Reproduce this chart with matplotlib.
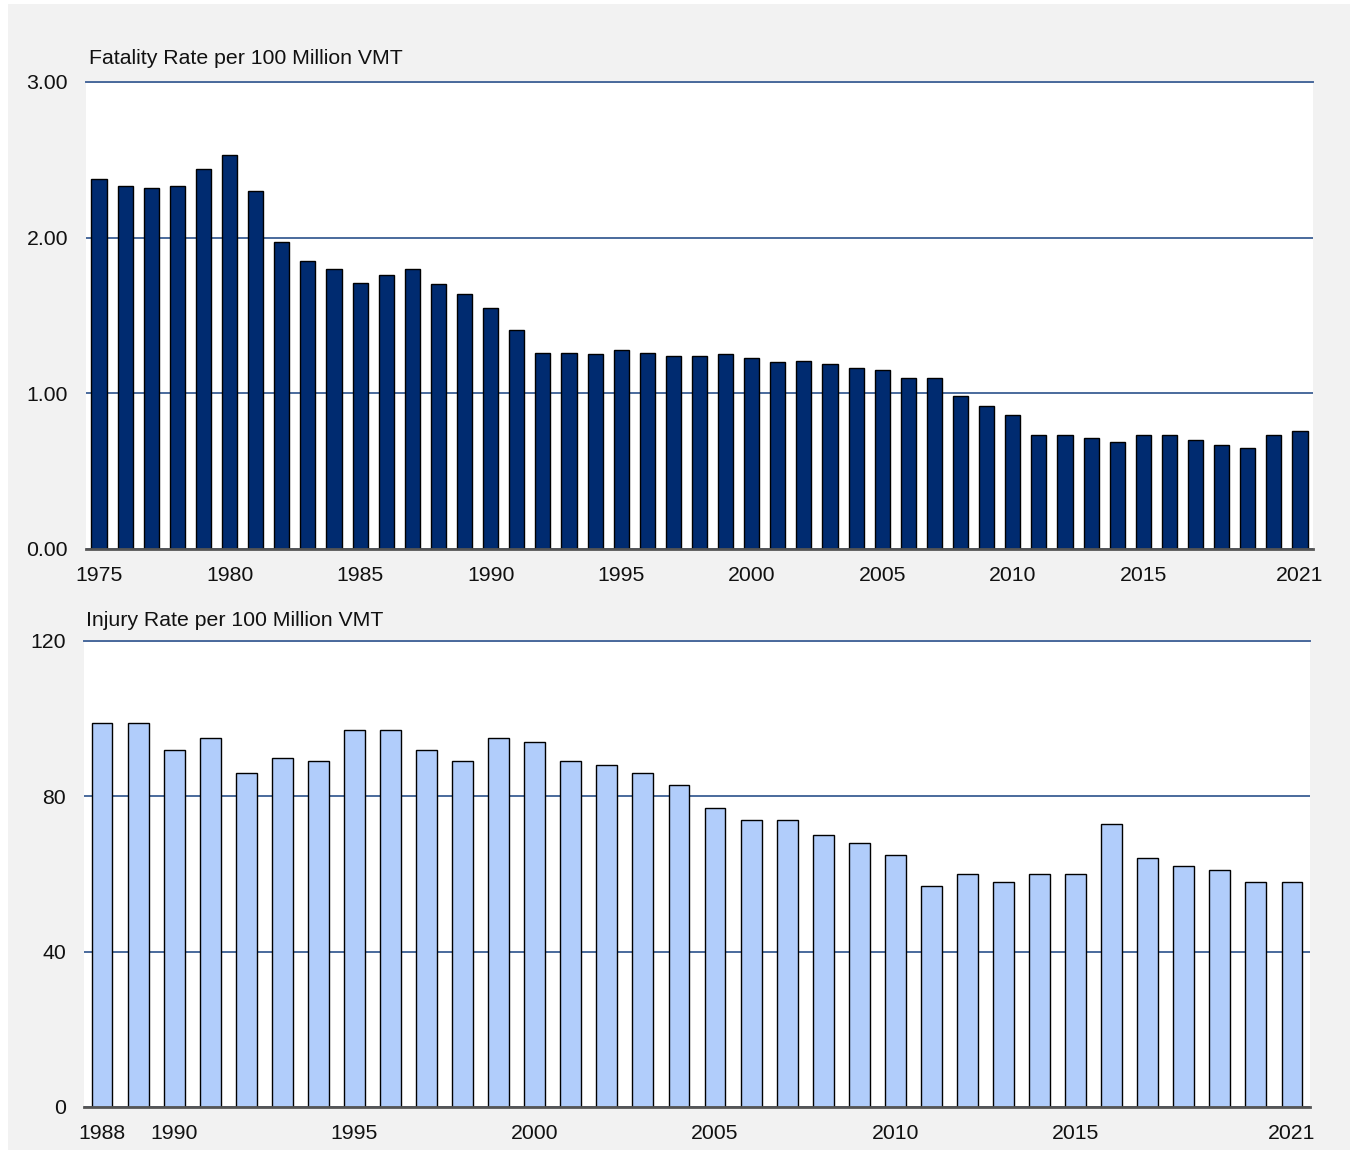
import matplotlib.pyplot as plt
from matplotlib.patches import Rectangle

plt.rcParams["font.family"] = ["Liberation Sans", "DejaVu Sans"]

# Fatality rate per 100 million VMT, 1975-2021
fatality_years = list(range(1975, 2022))
fatality_rate = [
    2.38, 2.33, 2.32, 2.33, 2.44, 2.53, 2.30, 1.97, 1.85, 1.80,
    1.71, 1.76, 1.80, 1.70, 1.64, 1.55, 1.41, 1.26, 1.26, 1.25,
    1.28, 1.26, 1.24, 1.24, 1.25, 1.23, 1.20, 1.21, 1.19, 1.16,
    1.15, 1.10, 1.10, 0.98, 0.92, 0.86, 0.73, 0.73, 0.71, 0.69,
    0.73, 0.73, 0.70, 0.67, 0.65, 0.73, 0.76,
]
fatality_ticks = [1975, 1980, 1985, 1990, 1995, 2000, 2005, 2010, 2015, 2021]

# Injury rate per 100 million VMT, 1988-2021
injury_years = list(range(1988, 2022))
injury_rate = [
    99, 99, 92, 95, 86, 90, 89, 97, 97, 92,
    89, 95, 94, 89, 88, 86, 83, 77, 74, 74,
    70, 68, 65, 57, 60, 58, 60, 60, 73, 64,
    62, 61, 58, 58,
]
injury_ticks = [1988, 1990, 1995, 2000, 2005, 2010, 2015, 2021]

W, H = 1354, 1150
FS = 15.3
fig = plt.figure(figsize=(W / 100, H / 100), dpi=100, facecolor="white")
fig.patches.append(Rectangle((8 / W, 0), 1342 / W, 1146 / H,
                             transform=fig.transFigure, facecolor="#f2f2f2",
                             edgecolor="none", zorder=-10))

GRID = "#4a6a9c"


def px_axes(left, top, right, bottom):
    return fig.add_axes([left / W, 1 - bottom / H, (right - left) / W, (bottom - top) / H])


def style(ax, years, ticks, yticks, ylabels):
    ax.set_facecolor("white")
    ax.set_xlim(years[0] - 0.5, years[-1] + 0.5)
    ax.set_ylim(yticks[0], yticks[-1])
    ax.set_yticks(yticks)
    ax.set_yticklabels(ylabels)
    ax.set_xticks(ticks)
    ax.tick_params(length=0, labelsize=FS, colors="#111111")
    ax.tick_params(axis="x", pad=12)
    ax.tick_params(axis="y", pad=13)
    for s in ["top", "right", "left"]:
        ax.spines[s].set_visible(False)
    ax.spines["bottom"].set_color("#555555")
    ax.spines["bottom"].set_linewidth(2)
    ax.spines["bottom"].set_zorder(5)
    ax.grid(axis="y", color=GRID, linewidth=1.4)
    ax.set_axisbelow(True)
    ax.axhline(yticks[-1], color=GRID, linewidth=1.4, zorder=0, clip_on=False)


ax1 = px_axes(86, 82, 1313, 549)
ax1.bar(fatality_years, fatality_rate, width=0.58, color="#002b70",
        edgecolor="black", linewidth=1)
style(ax1, fatality_years, fatality_ticks, [0, 1, 2, 3],
      ["0.00", "1.00", "2.00", "3.00"])
fig.text(89 / W, 1 - 58 / H, "Fatality Rate per 100 Million VMT",
         fontsize=FS, va="center", ha="left", color="#111111")

ax2 = px_axes(84, 641, 1310, 1107)
ax2.bar(injury_years, injury_rate, width=0.58, color="#b1cdfb",
        edgecolor="black", linewidth=1)
style(ax2, injury_years, injury_ticks, [0, 40, 80, 120],
      ["0", "40", "80", "120"])
fig.text(86 / W, 1 - 620 / H, "Injury Rate per 100 Million VMT",
         fontsize=FS, va="center", ha="left", color="#111111")

fig.savefig("out.png", dpi=100, facecolor=fig.get_facecolor())
